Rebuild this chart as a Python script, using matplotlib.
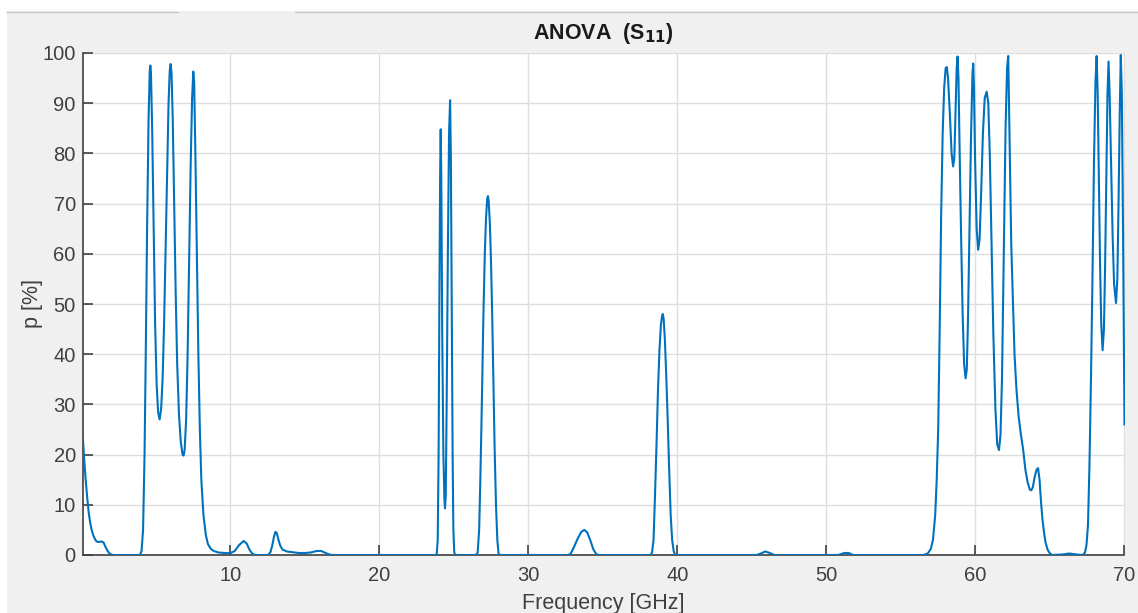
import matplotlib
matplotlib.use("Agg")
import matplotlib.pyplot as plt
from matplotlib.patches import Rectangle
from matplotlib.lines import Line2D

# Frequency [GHz] and p [%] for the S11 ANOVA sweep
freq_ghz = [
    0.10, 0.20, 0.30, 0.40, 0.50, 0.60, 0.70, 0.80, 0.90, 1.00, 1.10, 1.20, 1.35, 1.50, 1.60, 1.75, 1.90, 2.05, 2.20,
    3.95, 4.05, 4.15, 4.25, 4.33, 4.42, 4.52, 4.60, 4.64, 4.68, 4.76, 4.86, 4.96, 5.06, 5.16, 5.26, 5.36, 5.46, 5.56,
    5.66, 5.76, 5.86, 5.94, 6.00, 6.06, 6.14, 6.24, 6.34, 6.44, 6.56, 6.68, 6.80, 6.87, 6.94, 7.04, 7.14, 7.24, 7.34,
    7.44, 7.52, 7.58, 7.66, 7.76, 7.86, 7.96, 8.06, 8.20, 8.36, 8.50, 8.70, 8.90, 9.20, 9.60, 10.00, 10.30, 10.60,
    10.90, 11.10, 11.30, 11.50, 11.70, 12.55, 12.70, 12.82, 12.93, 13.03, 13.12, 13.22, 13.35, 13.50, 13.80, 14.20,
    14.60, 15.00, 15.40, 15.80, 16.10, 16.40, 16.70, 17.00,
    23.85, 23.92, 23.98, 24.03, 24.08, 24.12, 24.16, 24.22, 24.30, 24.37, 24.41, 24.46, 24.52, 24.60, 24.68, 24.75,
    24.80, 24.86, 24.92, 24.97, 25.03, 25.10,
    26.50, 26.60, 26.70, 26.78, 26.88, 26.98, 27.08, 27.16, 27.24, 27.29, 27.34, 27.42, 27.50, 27.58, 27.66, 27.74,
    27.83, 27.92, 28.00, 28.10,
    32.70, 32.85, 33.05, 33.30, 33.55, 33.75, 33.95, 34.15, 34.35, 34.55, 34.70,
    38.20, 38.30, 38.40, 38.50, 38.60, 38.70, 38.80, 38.90, 38.97, 39.02, 39.08, 39.16, 39.25, 39.35, 39.45, 39.55,
    39.65, 39.75, 39.85,
    45.30, 45.60, 45.90, 46.20, 46.50, 50.80, 51.20, 51.50, 51.80,
    56.50, 56.80, 57.00, 57.15, 57.30, 57.40, 57.50, 57.60, 57.70, 57.80, 57.90, 58.00, 58.08, 58.16, 58.28, 58.40,
    58.50, 58.58, 58.66, 58.74, 58.80, 58.86, 58.94, 59.04, 59.14, 59.24, 59.34, 59.42, 59.50, 59.60, 59.70, 59.80,
    59.85, 59.90, 59.98, 60.08, 60.18, 60.28, 60.38, 60.50, 60.62, 60.75, 60.86, 60.96, 61.08, 61.20, 61.34, 61.46,
    61.58, 61.68, 61.78, 61.90, 62.02, 62.12, 62.20, 62.30, 62.40, 62.50, 62.62, 62.75, 62.90, 63.05, 63.20, 63.35,
    63.50, 63.65, 63.75, 63.85, 63.97, 64.10, 64.20, 64.30, 64.40, 64.50, 64.60, 64.70, 64.85, 65.00, 65.15,
    65.80, 66.30, 66.80, 67.20, 67.35, 67.45, 67.55, 67.65, 67.75, 67.85, 67.95, 68.05, 68.13, 68.20, 68.28, 68.36,
    68.44, 68.53, 68.62, 68.70, 68.78, 68.86, 68.93, 69.00, 69.10, 69.20, 69.30, 69.43, 69.52, 69.60, 69.68, 69.75,
    69.82, 69.90, 69.96, 70.00,
]

p_percent = [
    24.0, 19.0, 15.0, 11.5, 8.5, 6.5, 5.0, 4.0, 3.3, 2.8, 2.6, 2.6, 2.7, 2.5, 1.8, 0.9, 0.3, 0.05, 0.0,
    0.0, 0.8, 5.0, 20.0, 40.0, 65.0, 87.0, 96.5, 97.5, 96.0, 85.0, 65.0, 46.0, 34.0, 28.5, 27.0, 29.0, 35.0, 46.0,
    61.0, 77.0, 90.0, 96.5, 97.8, 96.0, 87.0, 70.0, 52.0, 38.0, 28.0, 22.5, 20.0, 19.8, 21.0, 27.0, 40.0, 58.0, 77.0,
    91.0, 96.3, 94.0, 80.0, 60.0, 40.0, 25.0, 15.0, 8.0, 4.0, 2.2, 1.2, 0.8, 0.5, 0.4, 0.35, 0.8, 2.0,
    2.8, 2.3, 1.0, 0.2, 0.0, 0.0, 0.6, 1.9, 3.6, 4.6, 4.4, 3.2, 1.9, 1.1, 0.7, 0.55,
    0.4, 0.4, 0.5, 0.8, 0.8, 0.4, 0.05, 0.0,
    0.0, 3.0, 20.0, 50.0, 75.0, 84.8, 75.0, 45.0, 20.0, 11.0, 9.3, 12.0, 30.0, 60.0, 84.0, 90.6,
    80.0, 50.0, 20.0, 5.0, 0.5, 0.0,
    0.0, 0.5, 5.0, 15.0, 30.0, 47.0, 60.0, 67.0, 71.0, 71.5, 70.5, 66.0, 58.0, 47.0, 34.0, 21.0,
    10.0, 3.0, 0.3, 0.0,
    0.0, 0.3, 1.5, 3.2, 4.6, 5.0, 4.5, 3.0, 1.2, 0.2, 0.0,
    0.0, 0.5, 3.0, 12.0, 22.0, 33.0, 41.0, 46.0, 47.5, 48.0, 47.0, 43.0, 36.0, 27.0, 17.0, 8.0,
    3.0, 0.8, 0.0,
    0.0, 0.3, 0.7, 0.4, 0.0, 0.0, 0.4, 0.4, 0.0,
    0.0, 0.3, 1.2, 3.0, 8.0, 15.0, 25.0, 45.0, 68.0, 84.0, 93.0, 97.0, 97.2, 95.0, 88.0, 80.0,
    77.4, 79.0, 88.0, 97.0, 99.3, 95.0, 80.0, 63.0, 48.0, 38.0, 35.2, 37.0, 47.0, 65.0, 83.0, 96.0,
    97.9, 93.0, 78.0, 65.0, 60.8, 63.0, 72.0, 84.0, 91.0, 92.3, 90.0, 80.0, 62.0, 44.0, 29.0, 22.0,
    20.9, 24.0, 35.0, 60.0, 85.0, 97.0, 99.4, 80.0, 62.0, 52.0, 40.0, 33.0, 27.5, 24.0, 21.0, 17.0,
    14.5, 13.0, 12.9, 13.5, 15.5, 17.0, 17.3, 15.0, 10.5, 7.0, 4.5, 2.5, 1.0, 0.3, 0.0,
    0.1, 0.3, 0.1, 0.0, 0.5, 2.0, 6.0, 18.0, 35.0, 55.0, 78.0, 94.0, 99.4, 92.0, 75.0, 58.0,
    46.0, 40.8, 45.0, 58.0, 75.0, 92.0, 98.3, 92.0, 78.0, 64.0, 54.0, 50.2, 55.0, 70.0, 88.0, 99.6,
    92.0, 65.0, 42.0, 26.0,
]

x_ticks = [10, 20, 30, 40, 50, 60, 70]
y_ticks = [0, 10, 20, 30, 40, 50, 60, 70, 80, 90, 100]

W, H = 1138, 613
plt.rcParams["font.family"] = ["Liberation Sans", "DejaVu Sans"]

fig = plt.figure(figsize=(W / 100, H / 100), dpi=100, facecolor="#f0f0f0")

# window chrome: white strip along the top and left edge, thin separator with a tab gap
fig.patches.append(Rectangle((0, 1 - 11 / H), 1, 11 / H, transform=fig.transFigure,
                             facecolor="white", edgecolor="none", zorder=0))
fig.patches.append(Rectangle((0, 0), 7 / W, 1, transform=fig.transFigure,
                             facecolor="white", edgecolor="none", zorder=0))
sep_y = 1 - 11.5 / H
fig.lines.append(Line2D([7 / W, 178 / W], [sep_y, sep_y], transform=fig.transFigure,
                        color="#c8c8c8", lw=1.0))
fig.lines.append(Line2D([295 / W, 1.0], [sep_y, sep_y], transform=fig.transFigure,
                        color="#c8c8c8", lw=1.0))

ax = fig.add_axes([82.7 / W, 1 - 555 / H, (1124.5 - 82.7) / W, (555 - 53) / H])
ax.set_facecolor("white")

ax.plot(freq_ghz, p_percent, color="#0072BD", lw=1.5, solid_joinstyle="round", zorder=3)

ax.set_xlim(0.1, 70)
ax.set_ylim(0, 100)
ax.set_xticks(x_ticks)
ax.set_yticks(y_ticks)
ax.grid(True, color="#dedede", lw=1.0)
ax.set_axisbelow(True)

text_col = "#404040"
for side in ("top", "right"):
    ax.spines[side].set_visible(False)
for side in ("left", "bottom"):
    ax.spines[side].set_color("#404040")
    ax.spines[side].set_linewidth(1.2)
ax.tick_params(axis="both", direction="in", length=7, width=1.2, color="#404040",
               labelcolor=text_col, labelsize=14.5)
ax.tick_params(axis="x", pad=8)
ax.tick_params(axis="y", pad=5)

ax.set_title("ANOVA  (S$_{\\mathbf{11}}$)", fontsize=15.5, fontweight="bold",
             color="#1a1a1a", pad=10)
ax.set_xlabel("Frequency [GHz]", fontsize=15.5, color=text_col, labelpad=6)
ax.set_ylabel("p [%]", fontsize=15.5, color=text_col, labelpad=-0.5)

fig.savefig("out.png", dpi=100, facecolor=fig.get_facecolor())
